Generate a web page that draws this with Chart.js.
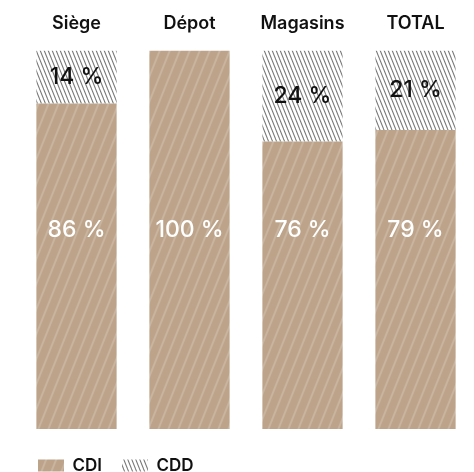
<!DOCTYPE html>
<html>
<head>
<meta charset="utf-8">
<script src="https://cdn.jsdelivr.net/npm/chart.js@4"></script>
<style>
  body { margin: 0; background: #fff; }
  #wrap { width: 474px; height: 472px; }
</style>
</head>
<body>
<div id="wrap"><canvas id="myChart" width="474" height="472"></canvas></div>
<script>
// données
const categories = ['Siège', 'Dépot', 'Magasins', 'TOTAL'];
const cdi = [86, 100, 76, 79];
const cdd = [14, 0, 24, 21];
const seriesNames = ['CDI', 'CDD'];

const FONT = 'Inter, "Noto Sans", sans-serif';

// motif hachuré : lignes obliques répétées
function stripes(bg, fg, w, h, lw, dir) {
  const c = document.createElement('canvas');
  c.width = w; c.height = h;
  const g = c.getContext('2d');
  if (bg) { g.fillStyle = bg; g.fillRect(0, 0, w, h); }
  g.strokeStyle = fg;
  g.lineWidth = lw;
  for (let k = -1; k <= 1; k++) {
    g.beginPath();
    if (dir === '/') {
      g.moveTo(k * w - w, 2 * h);
      g.lineTo(k * w + 2 * w, -h);
    } else {
      g.moveTo(k * w - w, -h);
      g.lineTo(k * w + 2 * w, 2 * h);
    }
    g.stroke();
  }
  return g.createPattern(c, 'repeat');
}

const ctx = document.getElementById('myChart');
const pCdi = stripes('#bca389', '#c8b49f', 10, 25, 2, '/');
const pCdd = stripes('#ffffff', '#7a7a7a', 4, 10, 1.1, '\\');

// étiquettes de pourcentage
const valueLabels = {
  id: 'valueLabels',
  afterDatasetsDraw(chart) {
    const g = chart.ctx;
    const y = chart.scales.y;
    g.save();
    g.textAlign = 'center';
    g.textBaseline = 'middle';
    g.font = '500 23px ' + FONT;
    chart.data.datasets.forEach((ds, i) => {
      const meta = chart.getDatasetMeta(i);
      meta.data.forEach((bar, j) => {
        const v = ds.data[j];
        if (!v) return;
        let py;
        if (i === 0) {
          py = y.getPixelForValue(52.5);
          g.fillStyle = '#ffffff';
        } else {
          py = (bar.y + bar.base) / 2;
          g.fillStyle = '#111111';
        }
        g.fillText(v + ' %', bar.x, py);
      });
    });
    g.restore();
  }
};

new Chart(ctx, {
  type: 'bar',
  data: {
    labels: categories,
    datasets: [
      { label: seriesNames[0], data: cdi, backgroundColor: pCdi, borderWidth: 0, xAxisID: 'x', yAxisID: 'y' },
      { label: seriesNames[1], data: cdd, backgroundColor: pCdd, borderWidth: 0, xAxisID: 'x', yAxisID: 'y' }
    ]
  },
  options: {
    responsive: false,
    animation: false,
    devicePixelRatio: 1,
    barPercentage: 0.71,
    categoryPercentage: 1,
    layout: { padding: { left: 18, right: 2, top: 5, bottom: -12 } },
    scales: {
      x: {
        stacked: true,
        position: 'top',
        grid: { display: false },
        border: { display: false },
        ticks: { color: '#111', padding: 8, font: { family: FONT, size: 18, weight: 600 } }
      },
      y: {
        stacked: true,
        display: false,
        min: 0,
        max: 100
      },
      // axes vides servant d'espace autour des barres
      gap: {
        type: 'category',
        position: 'bottom',
        grid: { display: false },
        border: { display: false },
        ticks: { display: false },
        afterFit(scale) { scale.height = 8; }
      },
      side: {
        type: 'linear',
        position: 'left',
        grid: { display: false },
        border: { display: false },
        ticks: { display: false },
        afterFit(scale) { scale.width = 2; }
      }
    },
    plugins: {
      tooltip: { enabled: false },
      legend: {
        position: 'bottom',
        align: 'start',
        labels: {
          boxWidth: 26,
          boxHeight: 12,
          padding: 20,
          color: '#111',
          font: { family: FONT, size: 17, weight: 600 }
        }
      }
    }
  },
  plugins: [valueLabels]
});
</script>
</body>
</html>
